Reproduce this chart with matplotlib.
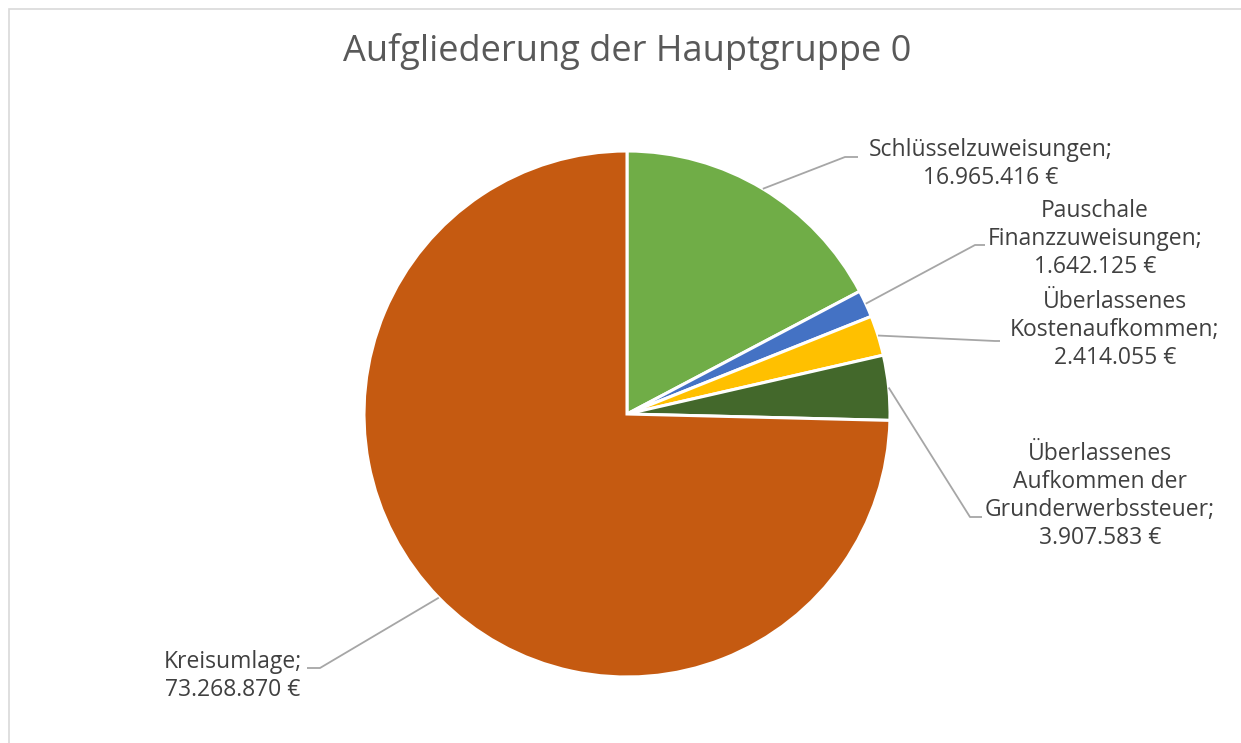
import matplotlib
matplotlib.use("Agg")
import matplotlib.pyplot as plt
import numpy as np
from matplotlib.patches import Rectangle

categories = ["Schlüsselzuweisungen", "Pauschale\nFinanzzuweisungen", "Überlassenes\nKostenaufkommen",
              "Überlassenes\nAufkommen der\nGrunderwerbssteuer", "Kreisumlage"]
values = [16965416, 1642125, 2414055, 3907583, 73268870]
value_labels = ["16.965.416 €", "1.642.125 €", "2.414.055 €", "3.907.583 €", "73.268.870 €"]
colors = ["#70AD47", "#4472C4", "#FFC000", "#43682B", "#C55A11"]
title = "Aufgliederung der Hauptgruppe 0"

W, H = 1241, 743
plt.rcParams['font.family'] = ['Open Sans', 'DejaVu Sans']
fig = plt.figure(figsize=(W / 100, H / 100), dpi=100)
ax = fig.add_axes([0, 0, 1, 1])

def Y(py):
    return H - py

cx, cy, r = 627, 414, 263
wedges, _ = ax.pie(values, colors=colors, startangle=90, counterclock=False,
                   center=(cx, Y(cy)), radius=r,
                   wedgeprops=dict(edgecolor="white", linewidth=2.2), frame=True)
ax.set_xlim(0, W)
ax.set_ylim(0, H)
ax.set_aspect('equal')
ax.axis('off')

# chart area border
ax.add_patch(Rectangle((9, Y(9) - 800), 1400, 800, fill=False, ec="#D9D9D9", lw=1.2))

# label layout: (text center x, block center y, elbow x, elbow y, end x)
layout = [
    (991, 164, 845, 157, 858),
    (1095, 239, 975, 245, 985),
    (1115, 330, 995, 341, 1000),
    (1100, 496, 970, 517, 982),
    (233, 676, 320, 668, 307),
]
lc = "#A6A6A6"
tc = "#404040"
for w, lab, vl, (tx, ty, ex, ey, endx) in zip(wedges, categories, value_labels, layout):
    mid = np.deg2rad((w.theta1 + w.theta2) / 2)
    px = cx + r * np.cos(mid)
    py = cy - r * np.sin(mid)
    ax.plot([px, ex, endx], [Y(py), Y(ey), Y(ey)], color=lc, lw=1.3, solid_capstyle='butt')
    text = lab + ";\n" + vl
    ax.text(tx, Y(ty), text, ha='center', va='center', fontsize=16.5, color=tc,
            linespacing=1.22, multialignment='center')

ax.text(627, Y(52), title, ha='center', va='center', fontsize=26, color="#595959")

fig.savefig("out.png", dpi=100)
